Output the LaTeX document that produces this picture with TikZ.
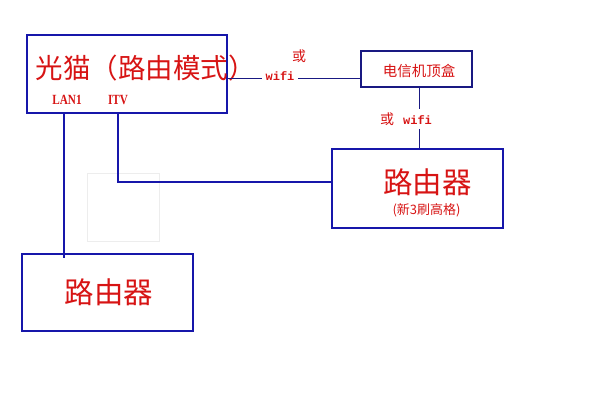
\documentclass[tikz,border=0pt]{standalone}
\usepackage{fontspec}
\setmainfont{Liberation Serif}
\newfontfamily\cjk{Noto Sans CJK SC}
\newfontfamily\monof{Liberation Mono}
\definecolor{boxblue}{RGB}{22,22,170}
\definecolor{lineblue}{RGB}{25,25,130}
\definecolor{txtred}{RGB}{215,20,20}
\tikzset{
  boxnode/.style={draw=boxblue, line width=2.5pt, minimum width=#1, inner sep=0pt},
  thinline/.style={draw=lineblue, line width=1pt},
  thickline/.style={draw=boxblue, line width=2pt},
  redtxt/.style={text=txtred, inner sep=0pt, anchor=center},
  gaplabel/.style={text=txtred, fill=white, inner sep=1.5pt, anchor=center},
}
\begin{document}
\begin{tikzpicture}[x=1pt,y=-1pt]
\useasboundingbox (0,0) rectangle (600,400);
% faint rectangle
\draw[color=black!7, line width=0.6pt] (87,173) rectangle (159,241);
% boxes
\node[boxnode=200pt, minimum height=78pt] (modem) at (127,74) {};
\node[boxnode=111pt, minimum height=36pt, draw=lineblue, line width=1.4pt] (stb) at (416.5,69) {};
\node[boxnode=171pt, minimum height=79pt] (r2) at (417.5,188.5) {};
\node[boxnode=171pt, minimum height=77pt] (r1) at (107.5,292.5) {};
% texts
\node[redtxt, font=\cjk\fontsize{27.5}{30}\selectfont] (mtxt) at (145.5,68) {光猫（路由模式）};
\node[redtxt, font=\bfseries\fontsize{14}{15}\selectfont, xscale=0.8] (lan) at (67,100) {LAN1};
\node[redtxt, font=\bfseries\fontsize{14}{15}\selectfont, xscale=0.8] (itv) at (118,100) {ITV};
\node[redtxt, font=\cjk\fontsize{14.5}{16}\selectfont] (stbtxt) at (419,71) {电信机顶盒};
\node[redtxt, font=\cjk\fontsize{29.5}{32}\selectfont] (r2txt) at (427.5,182) {路由器};
\node[redtxt, font=\cjk\fontsize{13}{14}\selectfont] (r2sub) at (426.5,210) {(新3刷高格)};
\node[redtxt, font=\cjk\fontsize{29.5}{32}\selectfont] (r1txt) at (109,292) {路由器};
\node[redtxt, font=\cjk\fontsize{14}{15}\selectfont] (or1) at (299,56) {或};
% connectors
\coordinate (m78) at (modem.east |- 0,78);
\coordinate (s78) at (stb.west |- 0,78);
\draw[thinline] (m78) -- (s78);
\node[gaplabel, font=\monof\bfseries\fontsize{12}{13}\selectfont, inner xsep=4pt] (wifi1) at (280,76.5) {wifi};
\coordinate (stbb) at (stb.south -| 419,0);
\coordinate (r2t) at (r2.north -| 419,0);
\draw[thinline] (stbb) -- (r2t);
\node[gaplabel, font=\monof\bfseries\fontsize{12}{13}\selectfont, inner ysep=4pt] (wifi2) at (406,119) {{\cjk\mdseries\fontsize{14}{15}\selectfont 或}\hspace{9pt}wifi};
\coordinate (lanend) at (64,258);
\draw[thickline] (modem.south -| 64,0) -- (lanend);
\draw[thickline] (modem.south -| 118,0) -- (118,182) -- (r2.west |- 0,182);
\end{tikzpicture}
\end{document}
